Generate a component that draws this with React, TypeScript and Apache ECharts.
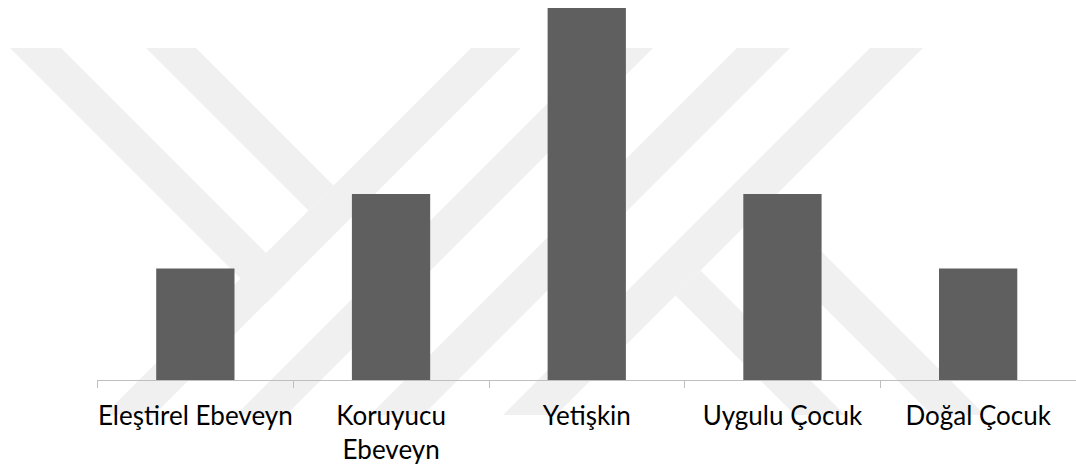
import React, { useEffect, useRef } from "react";
import * as echarts from "echarts";

const categories = ["Eleştirel Ebeveyn", "Koruyucu Ebeveyn", "Yetişkin", "Uygulu Çocuk", "Doğal Çocuk"];
const values = [3, 5, 10, 5, 3];
const wrappedLabels: Record<string, string> = { "Koruyucu Ebeveyn": "Koruyucu\nEbeveyn" };

const WM = "#f0f0f0";
const B = 415;
const watermark: number[][][] = [
  [[10, 48], [61, 48], [291, 278], [265.5, 303.5]],
  [[146, 48], [196, 48], [333.5, 185.5], [308.5, 210.5]],
  [[471, 48], [521, 48], [521 - (B - 48), B], [471 - (B - 48), B]],
  [[603, 48], [653, 48], [653 - (B - 48), B], [603 - (B - 48), B]],
  [[737, 48], [790, 48], [790 - (B - 48), B], [737 - (B - 48), B]],
  [[870, 48], [923, 48], [923 - (B - 48), B], [870 - (B - 48), B]],
  [[770.5, 200.5], [B + 570, B], [B + 517, B], [744, 227]],
  [[700.5, 270.5], [B + 430, B], [B + 380, B], [675.5, 295.5]],
];

export default function App() {
  const ref = useRef<HTMLDivElement>(null);
  useEffect(() => {
    if (!ref.current) return;
    const chart = echarts.init(ref.current, null, { renderer: "svg" });
    chart.setOption({
      animation: false,
      backgroundColor: "#ffffff",
      graphic: watermark.map((pts) => ({
        type: "polygon",
        z: -10,
        silent: true,
        shape: { points: pts },
        style: { fill: WM },
      })),
      grid: { left: 97.5, top: 8, width: 983.3, height: 372, containLabel: false },
      xAxis: {
        type: "category",
        data: categories,
        boundaryGap: true,
        axisLine: { show: true, lineStyle: { color: "#bfbfbf", width: 1 } },
        axisTick: { show: true, length: 8, lineStyle: { color: "#bfbfbf" } },
        axisLabel: {
          interval: 0,
          margin: 18,
          color: "#000000",
          fontFamily: "Lato",
          fontSize: 26,
          lineHeight: 34,
          formatter: (v: string) => wrappedLabels[v] ?? v,
        },
      },
      yAxis: { type: "value", min: 0, max: 10, show: false, splitLine: { show: false } },
      series: [
        {
          type: "bar",
          data: values,
          barWidth: "40%",
          itemStyle: { color: "#5f5f5f" },
        },
      ],
    });
    return () => chart.dispose();
  }, []);
  return (
    <div
      ref={ref}
      style={{ position: "fixed", left: 0, top: 0, width: 1076, height: 468 }}
    />
  );
}
